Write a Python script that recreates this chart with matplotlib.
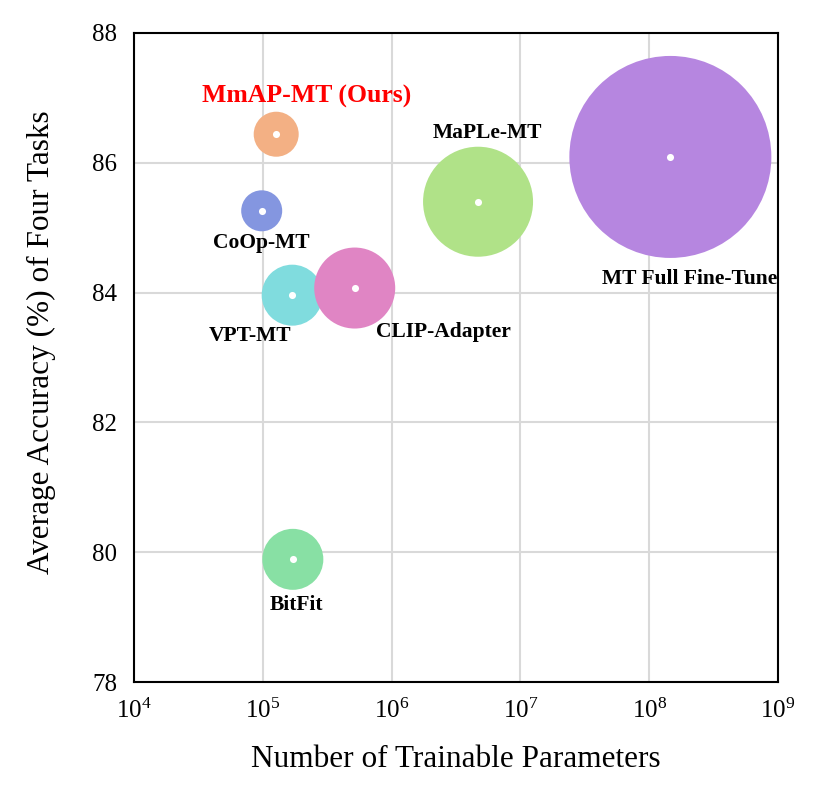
import numpy as np
import matplotlib
matplotlib.use("Agg")
import matplotlib.pyplot as plt

plt.rcParams["font.family"] = ["Liberation Serif", "DejaVu Serif"]
plt.rcParams["mathtext.fontset"] = "custom"
plt.rcParams["mathtext.rm"] = "Liberation Serif"
plt.rcParams["mathtext.it"] = "Liberation Serif:italic"

# ---- data ----
methods = ["MmAP-MT (Ours)", "CoOp-MT", "VPT-MT", "CLIP-Adapter",
           "MaPLe-MT", "MT Full Fine-Tune", "BitFit"]
params = [1.27e5, 0.98e5, 1.69e5, 5.17e5, 4.69e6, 1.46e8, 1.71e5]
accuracy = [86.44, 85.26, 83.96, 84.07, 85.40, 86.09, 79.89]
bubble_px = [45, 41, 61, 81, 110, 202, 61]   # bubble diameters in pixels
colors = ["#F3B084", "#8496E0", "#80DCDE", "#E085C4",
          "#B0E288", "#B686E0", "#88E0A4"]

# label offsets (pixels, relative to the bubble centre)
label_dx = [30, 0, -42, 89, 9, 19, 4]
label_dy = [38, -32, -41, -44, 69, -122, -46]
label_colors = ["red", "black", "black", "black", "black", "black", "black"]
label_sizes = [18.5, 15.5, 15.5, 15.5, 15.5, 15.5, 15.5]

x_ticks = [1e4, 1e5, 1e6, 1e7, 1e8, 1e9]
y_ticks = [78, 80, 82, 84, 86, 88]

DPI = 100
fig = plt.figure(figsize=(8.31, 7.85), dpi=DPI)
ax = fig.add_axes([0.1613, 0.1312, 0.9362 - 0.1613, 0.958 - 0.1312])

pt_per_px = 72.0 / DPI
sizes = [(d * pt_per_px) ** 2 for d in bubble_px]
ax.scatter(params, accuracy, s=sizes, c=colors, linewidths=0, zorder=3)
ax.scatter(params, accuracy, s=26, c="white", linewidths=0, zorder=4)

for i, name in enumerate(methods):
    ax.annotate(name, (params[i], accuracy[i]),
                xytext=(label_dx[i] * pt_per_px, label_dy[i] * pt_per_px),
                textcoords="offset points", ha="center", va="center",
                fontsize=label_sizes[i], fontweight="bold",
                color=label_colors[i], zorder=5)

ax.set_xscale("log")
ax.set_xlim(1e4, 1e9)
ax.set_ylim(78, 88)
ax.set_xticks(x_ticks)
ax.set_xticklabels([f"$10^{{{int(np.log10(t))}}}$" for t in x_ticks])
ax.set_yticks(y_ticks)
ax.minorticks_off()
ax.tick_params(length=0, labelsize=18, pad=12)

ax.grid(True, color="#d9d9d9", linewidth=1.5, zorder=0)
ax.set_axisbelow(True)
for sp in ax.spines.values():
    sp.set_linewidth(1.5)
    sp.set_color("black")

ax.set_xlabel("Number of Trainable Parameters", fontsize=22.5, labelpad=16)
ax.set_ylabel("Average Accuracy (%) of Four Tasks", fontsize=22.5)
ax.yaxis.set_label_coords(-0.121, 0.524)

fig.savefig("out.png", dpi=DPI)
